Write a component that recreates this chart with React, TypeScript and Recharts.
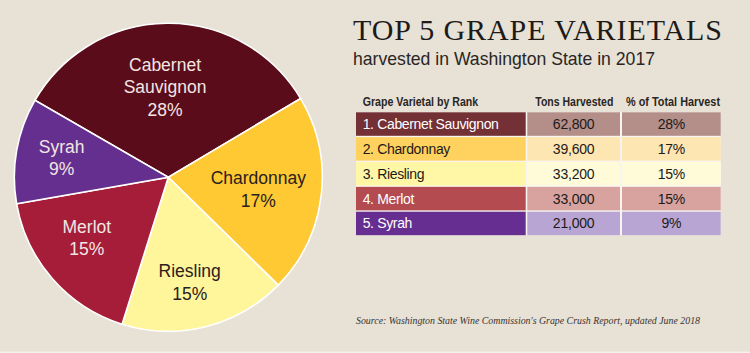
import React from 'react';
import { PieChart, Pie, Cell } from 'recharts';

// ---- data ----
const varietals = ['Cabernet Sauvignon', 'Chardonnay', 'Riesling', 'Merlot', 'Syrah'];
const pieLabelLines = [['Cabernet', 'Sauvignon'], ['Chardonnay'], ['Riesling'], ['Merlot'], ['Syrah']];
const tonsHarvested = [62800, 39600, 33200, 33000, 21000];
const pctOfTotal = [28, 17, 15, 15, 9];
const tableHeaders = ['Grape Varietal by Rank', 'Tons Harvested', '% of Total Harvest'];
const titleText = 'TOP 5 GRAPE VARIETALS';
const subtitleText = 'harvested in Washington State in 2017';
const sourceText = "Source: Washington State Wine Commission's Grape Crush Report, updated June 2018";

// ---- styles ----
const BG = '#e7e1d6';
const sliceColors = ['#5b0c1b', '#fec932', '#fff59b', '#a51d39', '#642f8f'];
const labelColors = ['#f3e6e2', '#2a2020', '#2a2020', '#f3e6e2', '#f3e6e2'];
const rowLabelColors = ['#733035', '#ffd15e', '#fff7a6', '#b34b51', '#662e90'];
const rowLabelText = ['#ffffff', '#1d1a18', '#1d1a18', '#ffffff', '#ffffff'];
const rowCellColors = ['#b48e89', '#fee6b3', '#fffbd9', '#d8a39f', '#b8a5d3'];
const labelRadius = [90.4, 90.8, 106.9, 101.3, 108.4];
const labelAngleShift = [1.7, -0.6, -2.5, -4.7, -0.4];

const pieData = varietals.map((name, i) => ({
  name,
  tons: tonsHarvested[i],
  pct: pctOfTotal[i],
}));

const SANS = '"Liberation Sans", Arial, Helvetica, sans-serif';
const SERIF = '"Liberation Serif", "Times New Roman", serif';

const RADIAN = Math.PI / 180;

const renderLabel = (props: any) => {
  const { cx, cy, midAngle, index } = props;
  const ang = (midAngle + labelAngleShift[index]) * RADIAN;
  const r = labelRadius[index];
  const x = cx + r * Math.cos(ang);
  const y = cy - r * Math.sin(ang);
  const lines = [...pieLabelLines[index], `${pctOfTotal[index]}%`];
  const n = lines.length;
  const lh = 22.2;
  const capH = 13;
  const firstBase = y - ((n - 1) * lh + capH) / 2 + capH;
  return (
    <text
      x={x}
      y={firstBase}
      textAnchor="middle"
      fill={labelColors[index]}
      fontFamily={SANS}
      fontSize={17.5}
    >
      {lines.map((l, k) => (
        <tspan key={k} x={x} y={firstBase + k * lh}>
          {l}
        </tspan>
      ))}
    </text>
  );
};

const colX = [356, 527.3, 622];
const colW = [169.7, 92.7, 98.7];
const rowTop0 = 112.3;
const rowPitch = 24.85;
const rowH = 23.5;

export default function App() {
  return (
    <div
      style={{
        position: 'absolute',
        left: 0,
        top: 0,
        width: 750,
        height: 353,
        background: BG,
        overflow: 'hidden',
      }}
    >
      <div style={{ position: 'absolute', left: 0, top: 0 }}>
        <PieChart width={340} height={353} margin={{ top: 0, right: 0, bottom: 0, left: 0 }}>
          <Pie
            data={pieData}
            dataKey="tons"
            nameKey="name"
            cx={168.3}
            cy={177.3}
            outerRadius={154}
            startAngle={150}
            endAngle={-210}
            stroke="#ffffff"
            strokeWidth={1.6}
            label={renderLabel}
            labelLine={false}
            isAnimationActive={false}
          >
            {pieData.map((d, i) => (
              <Cell key={d.name} fill={sliceColors[i]} />
            ))}
          </Pie>
        </PieChart>
      </div>
      <svg
        width={750}
        height={353}
        style={{ position: 'absolute', left: 0, top: 0, pointerEvents: 'none' }}
      >
        <text
          x={353}
          y={39.5}
          fontFamily={SERIF}
          fontSize={30}
          fill="#1e1a18"
          textLength={369}
          lengthAdjust="spacing"
        >
          {titleText}
        </text>
        <text
          x={353}
          y={65}
          fontFamily={SANS}
          fontSize={19}
          fill="#2a2624"
          textLength={302}
          lengthAdjust="spacingAndGlyphs"
        >
          {subtitleText}
        </text>
        {/* header */}
        <text
          x={362.7}
          y={105.5}
          fontFamily={SANS}
          fontWeight="bold"
          fontSize={12.5}
          fill="#2a2624"
          textLength={115.5}
          lengthAdjust="spacingAndGlyphs"
        >
          {tableHeaders[0]}
        </text>
        <text
          x={535.3}
          y={105.5}
          fontFamily={SANS}
          fontWeight="bold"
          fontSize={12.5}
          fill="#2a2624"
          textLength={78}
          lengthAdjust="spacingAndGlyphs"
        >
          {tableHeaders[1]}
        </text>
        <text
          x={626}
          y={105.5}
          fontFamily={SANS}
          fontWeight="bold"
          fontSize={12.5}
          fill="#2a2624"
          textLength={94}
          lengthAdjust="spacingAndGlyphs"
        >
          {tableHeaders[2]}
        </text>
        {/* table background (white gaps) */}
        <rect
          x={colX[0]}
          y={rowTop0}
          width={colX[2] + colW[2] - colX[0]}
          height={rowPitch * 4 + rowH}
          fill="#f8f5f0"
        />
        {varietals.map((v, i) => {
          const top = rowTop0 + i * rowPitch;
          const base = top + rowH / 2 + 5;
          return (
            <g key={v}>
              <rect x={colX[0]} y={top} width={colW[0]} height={rowH} fill={rowLabelColors[i]} />
              <rect x={colX[1]} y={top} width={colW[1]} height={rowH} fill={rowCellColors[i]} />
              <rect x={colX[2]} y={top} width={colW[2]} height={rowH} fill={rowCellColors[i]} />
              <text
                x={362.7}
                y={base}
                fontFamily={SANS}
                fontSize={14}
                letterSpacing={-0.35}
                fill={rowLabelText[i]}
              >
                {`${i + 1}. ${v}`}
              </text>
              <text
                x={colX[1] + colW[1] / 2}
                y={base}
                textAnchor="middle"
                fontFamily={SANS}
                fontSize={14}
                letterSpacing={-0.2}
                fill="#1d1a18"
              >
                {tonsHarvested[i].toLocaleString('en-US')}
              </text>
              <text
                x={colX[2] + colW[2] / 2}
                y={base}
                textAnchor="middle"
                fontFamily={SANS}
                fontSize={14}
                letterSpacing={-0.2}
                fill="#1d1a18"
              >
                {`${pctOfTotal[i]}%`}
              </text>
            </g>
          );
        })}
        <text
          x={356}
          y={324}
          fontFamily={SERIF}
          fontStyle="italic"
          fontSize={10.5}
          fill="#3a3430"
          textLength={344}
          lengthAdjust="spacingAndGlyphs"
        >
          {sourceText}
        </text>
        <rect x={0} y={351.5} width={750} height={1.5} fill="#f4f1ec" />
      </svg>
    </div>
  );
}
